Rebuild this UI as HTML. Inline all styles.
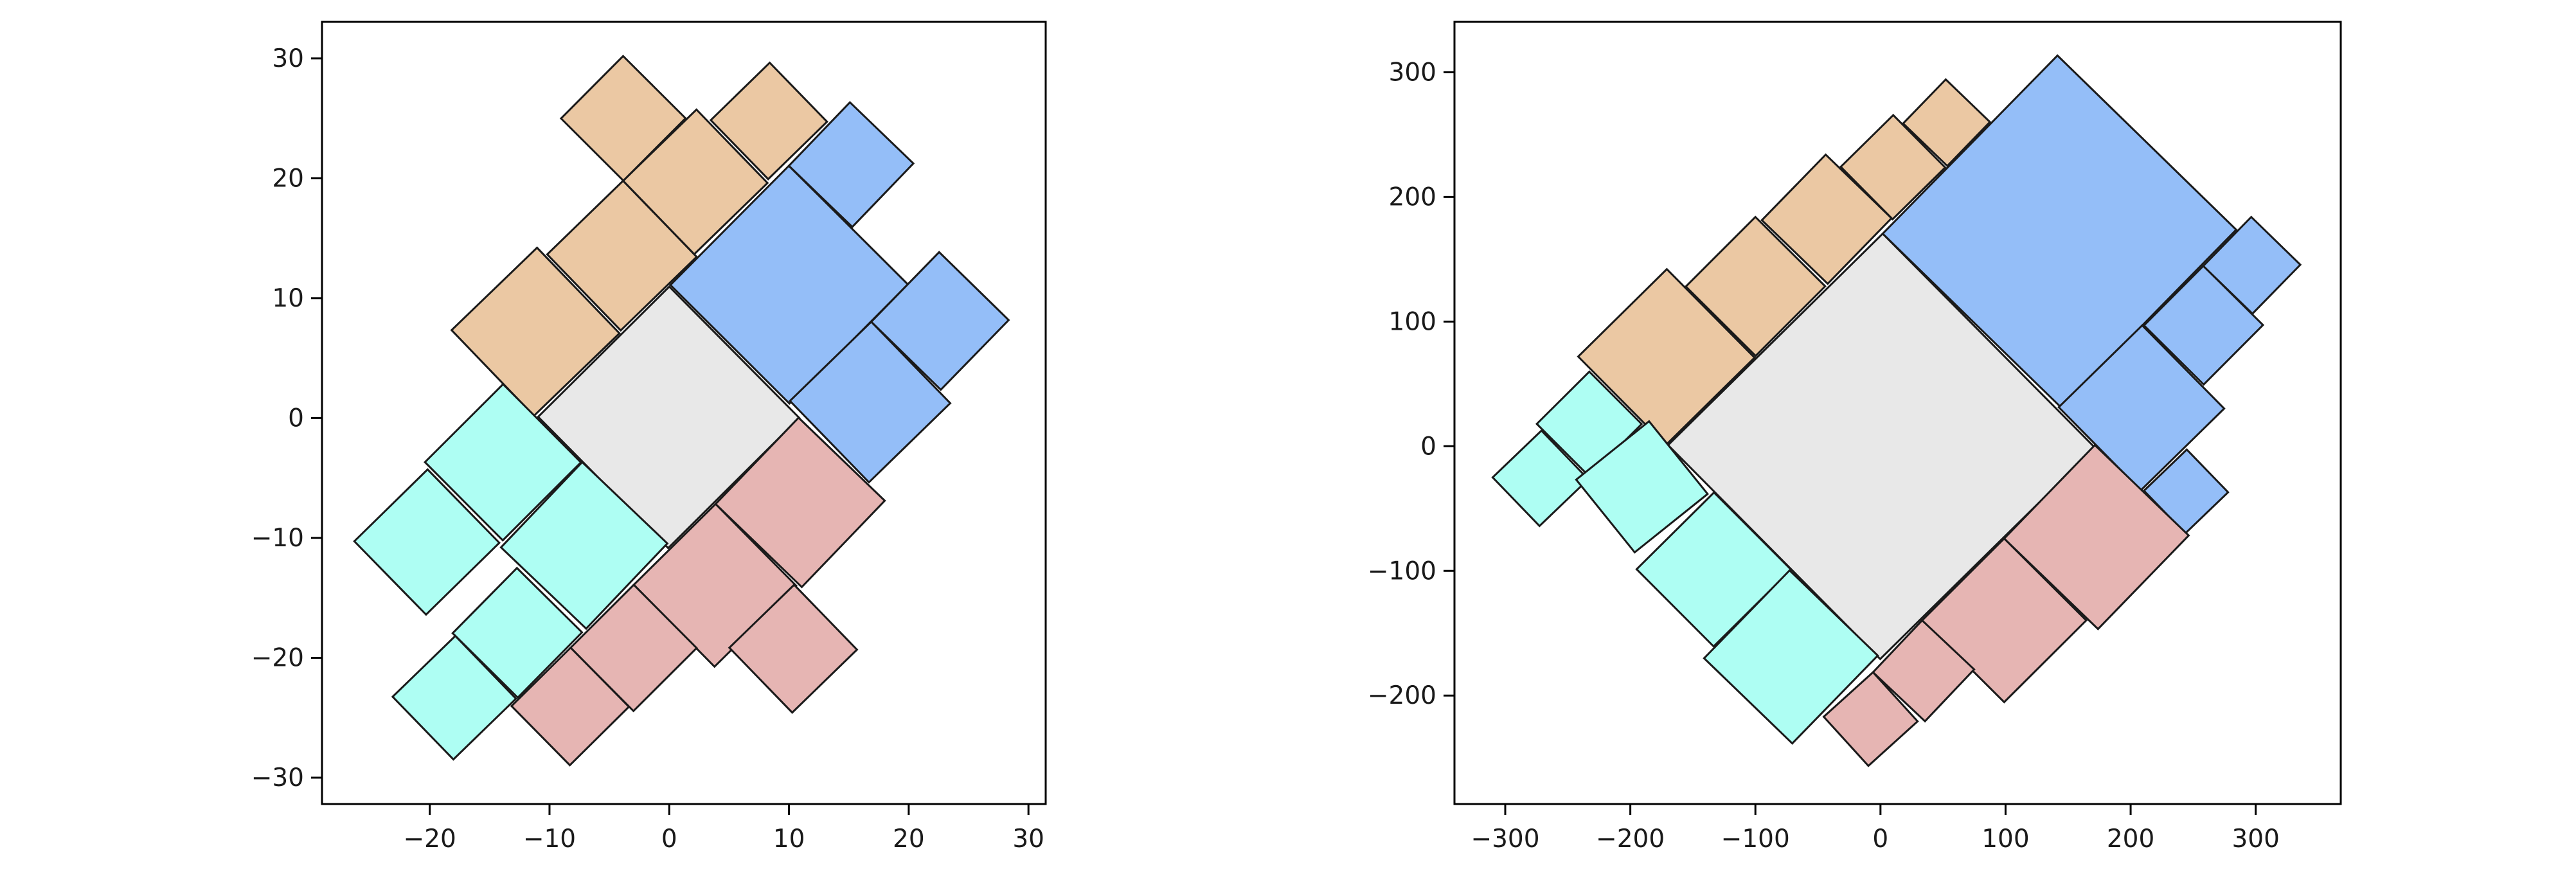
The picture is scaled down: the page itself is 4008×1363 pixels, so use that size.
<!DOCTYPE html>
<html><head><meta charset="utf-8"><style>
html,body{margin:0;padding:0;background:#fff;}
svg{display:block;font-family:"DejaVu Sans","Liberation Sans",sans-serif;}
</style></head><body>
<svg id="chart" width="4008" height="1363" viewBox="0 0 4008 1363" xmlns="http://www.w3.org/2000/svg">
<rect width="4008" height="1363" fill="#fff"/>
</svg>
<script>
// ---- Data: each square given by its left vertex and top vertex (data coords) ----
const leftGroups = ["center","tan","tan","tan","tan","tan","blue","blue","blue","blue","cyan","cyan","cyan","cyan","cyan","red","red","red","red","red"];
const leftLeftX = [-10.95,-18.18,-10.19,-3.85,-9.04,3.47,0.10,9.99,10.08,16.87,-20.40,-26.30,-14.05,-18.09,-23.10,3.87,-2.96,-8.24,-13.17,5.02];
const leftLeftY = [0.10,7.33,13.65,19.79,24.99,24.85,11.10,21.04,1.43,8.03,-3.68,-10.28,-10.79,-17.95,-23.25,-7.17,-13.91,-19.16,-24.03,-19.16];
const leftTopX = [0.00,-11.04,-3.85,2.27,-3.85,8.39,9.99,15.09,16.87,22.54,-13.88,-20.18,-7.27,-12.72,-17.87,10.80,3.87,-2.96,-8.24,10.43];
const leftTopY = [10.96,14.21,19.79,25.73,30.20,29.64,21.04,26.34,8.03,13.84,2.82,-4.29,-3.68,-12.51,-18.18,0.03,-7.17,-13.91,-19.16,-13.91];
const leftXTicks = [-20,-10,0,10,20,30];
const leftYTicks = [-30,-20,-10,0,10,20,30];

const rightGroups = ["center","tan","tan","tan","tan","tan","blue","blue","blue","blue","blue","cyan","cyan","cyan","cyan","cyan","red","red","red","red"];
const rightLeftX = [-169.8,-241.7,-155.6,-94.8,-31.8,18.1,1.8,142.5,210.7,258.1,210.7,-274.8,-310.1,-243.3,-195.0,-141.0,98.9,33.3,-6.0,-45.4];
const rightLeftY = [0.9,71.9,128.1,181.3,224.1,258.9,170.5,31.3,96.9,144.6,-35.7,17.9,-25.0,-26.8,-98.7,-170.1,-74.1,-139.7,-181.3,-217.0];
const rightTopX = [1.8,-170.8,-100.0,-43.8,10.2,52.2,141.5,209.2,258.1,296.4,244.9,-232.8,-271.1,-185.0,-133.1,-72.7,171.4,98.9,33.3,-6.0];
const rightTopY = [170.5,142.0,183.9,233.9,265.6,294.2,313.4,96.9,144.6,183.9,-2.7,59.8,12.5,20.0,-37.1,-99.6,0.9,-74.1,-139.7,-181.3];
const rightXTicks = [-300,-200,-100,0,100,200,300];
const rightYTicks = [-200,-100,0,100,200,300];

const fills = {center:"#e8e8e8",tan:"#ebc8a3",blue:"#94bef8",cyan:"#aefef3",red:"#e6b5b3"};
const NS = "http://www.w3.org/2000/svg";
const svg = document.getElementById("chart");

function mk(tag, attrs, parent){
  const e = document.createElementNS(NS, tag);
  for (const k in attrs) e.setAttribute(k, attrs[k]);
  (parent||svg).appendChild(e);
  return e;
}

function drawPanel(cfg){
  const g = mk("g", {});
  
  
  const sx = v => cfg.px0 + (v - cfg.xmin) / (cfg.xmax - cfg.xmin) * (cfg.px1 - cfg.px0);
  const sy = v => cfg.py1 - (v - cfg.ymin) / (cfg.ymax - cfg.ymin) * (cfg.py1 - cfg.py0);
  const clipId = cfg.name + "-clip";
  const cp = mk("clipPath", {id: clipId}, g);
  mk("rect", {x: cfg.px0, y: cfg.py0, width: cfg.px1 - cfg.px0, height: cfg.py1 - cfg.py0}, cp);
  const sq = mk("g", {"clip-path": "url(#" + clipId + ")"}, g);
  for (let i = 0; i < cfg.groups.length; i++){
    const ax = cfg.lx[i], ay = cfg.ly[i], bx = cfg.tx[i], by = cfg.ty[i];
    const vx = bx - ax, vy = by - ay;
    const pts = [[ax,ay],[bx,by],[bx+vy,by-vx],[ax+vy,ay-vx]];
    const p = mk("polygon", {
      points: pts.map(q => sx(q[0]).toFixed(1) + "," + sy(q[1]).toFixed(1)).join(" "),
      fill: fills[cfg.groups[i]], stroke: "#1a1a1a", "stroke-width": 3, "stroke-linejoin": "miter"
    }, sq);
    
    
  }
  const fr = mk("rect", {x: cfg.px0, y: cfg.py0, width: cfg.px1 - cfg.px0, height: cfg.py1 - cfg.py0, fill: "none", stroke: "#000", "stroke-width": 3}, g);
  
  
  cfg.xt.forEach(t => {
    const x = sx(t);
    mk("line", {x1: x, x2: x, y1: cfg.py1, y2: cfg.py1 + 17, stroke: "#000", "stroke-width": 3}, g);
    const tx = mk("text", {x: x, y: cfg.py1 + 67, "font-size": 39, "text-anchor": "middle", fill: "#1a1a1a"}, g);
    tx.textContent = (t < 0 ? "\u2212" + Math.abs(t) : String(t));
    
    
  });
  cfg.yt.forEach(t => {
    const y = sy(t);
    mk("line", {x1: cfg.px0 - 17, x2: cfg.px0, y1: y, y2: y, stroke: "#000", "stroke-width": 3}, g);
    const ty = mk("text", {x: cfg.px0 - 28, y: y + 13, "font-size": 39, "text-anchor": "end", fill: "#1a1a1a"}, g);
    ty.textContent = (t < 0 ? "\u2212" + Math.abs(t) : String(t));
    
    
  });
}

drawPanel({name:"left-panel", px0:501, px1:1627, py0:34, py1:1251,
  xmin:-29.0, xmax:31.44, ymin:-32.2, ymax:33.05,
  groups:leftGroups, lx:leftLeftX, ly:leftLeftY, tx:leftTopX, ty:leftTopY,
  xt:leftXTicks, yt:leftYTicks});
drawPanel({name:"right-panel", px0:2263, px1:3642, py0:34, py1:1251,
  xmin:-340.6, xmax:368.0, ymin:-287.0, ymax:340.4,
  groups:rightGroups, lx:rightLeftX, ly:rightLeftY, tx:rightTopX, ty:rightTopY,
  xt:rightXTicks, yt:rightYTicks});
</script>
</body></html>
